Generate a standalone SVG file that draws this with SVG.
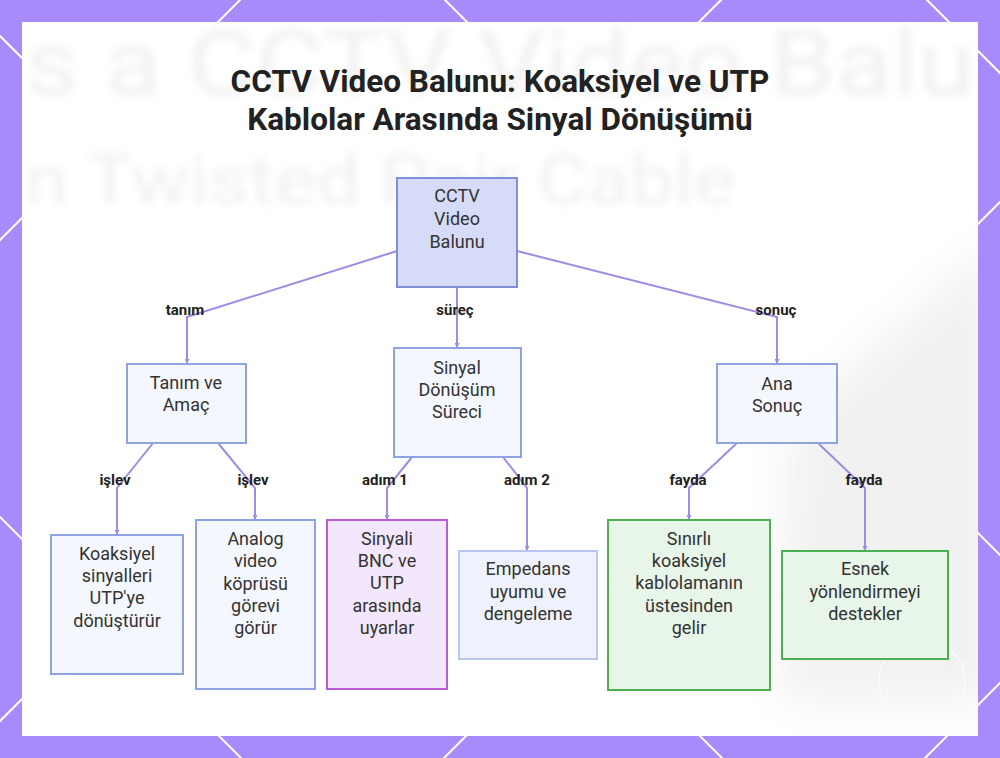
<svg xmlns="http://www.w3.org/2000/svg" width="1000" height="758" viewBox="0 0 1000 758">
  <defs>
    <style>
      .bgline { stroke: #ffffff; stroke-width: 2; fill: none; }
      .ghost { font-family: Roboto, "Liberation Sans", sans-serif; fill: #f1f1f1; }
      .title { font-family: Roboto, "Liberation Sans", sans-serif; font-weight: 700; font-size: 31.5px; fill: #222222; text-anchor: middle; }
      .node text { font-family: Roboto, "Liberation Sans", sans-serif; font-size: 18px; fill: #333333; text-anchor: middle; dominant-baseline: central; }
      .blue rect { fill: #f5f7fe; stroke: #8fa2e2; stroke-width: 2; }
      .root rect { fill: #d6dbf8; stroke: #7d8fd8; stroke-width: 2; }
      .purple rect { fill: #f2e7fd; stroke: #b65fd9; stroke-width: 2; }
      .pale rect { fill: #eff2fd; stroke: #b9c5f1; stroke-width: 2; }
      .green rect { fill: #e8f5e9; stroke: #4caf50; stroke-width: 2; }
      .conn path { fill: none; stroke: #a08ae4; stroke-width: 2; }
      .elabel { font-family: Roboto, "Liberation Sans", sans-serif; font-weight: 700; font-size: 15px; fill: #222222; text-anchor: middle; dominant-baseline: central; }
    </style>
    <filter id="blur" x="-10%" y="-30%" width="120%" height="160%">
      <feGaussianBlur stdDeviation="4"/>
    </filter>
    <filter id="blur2" x="-30%" y="-30%" width="160%" height="160%">
      <feGaussianBlur stdDeviation="22"/>
    </filter>
    <clipPath id="panel">
      <rect x="22" y="22" width="956" height="714"/>
    </clipPath>
    <marker id="arr" markerWidth="5" markerHeight="5" refX="4" refY="2.5" orient="auto" markerUnits="userSpaceOnUse">
      <path d="M0,0 L5,2.5 L0,5 z" fill="#a08ae4"/>
    </marker>
  </defs>

  <!-- border background -->
  <rect x="0" y="0" width="1000" height="758" fill="#a78bfa"/>
  <g class="bgline">
    <line x1="-10" y1="250" x2="250" y2="-10"/>
    <line x1="-10" y1="731" x2="731" y2="-10"/>
    <line x1="192" y1="1010" x2="1212" y2="-10"/>
    <line x1="673" y1="1010" x2="1693" y2="-10"/>
    <line x1="-10" y1="507" x2="261" y2="778"/>
    <line x1="-10" y1="26" x2="742" y2="778"/>
    <line x1="435" y1="-10" x2="1223" y2="778"/>
    <line x1="917" y1="-10" x2="1705" y2="778"/>
  </g>

  <!-- panel -->
  <rect x="22" y="22" width="956" height="714" fill="#ffffff"/>
  <g clip-path="url(#panel)">
    <polygon points="790,420 1000,240 1000,700 780,700" fill="#f1f1f1" filter="url(#blur2)"/>
    <text class="ghost" x="25" y="95" font-size="90" textLength="950" lengthAdjust="spacingAndGlyphs" filter="url(#blur)">s a CCTV Video Balu</text>
    <text class="ghost" x="25" y="204" font-size="68" textLength="710" lengthAdjust="spacingAndGlyphs" filter="url(#blur)">n Twisted Pair Cable</text>
    <circle cx="922" cy="682" r="43" fill="none" stroke="#fbfbfb" stroke-width="1.5"/>
  </g>

  <!-- title -->
  <text class="title" x="500" y="92">CCTV Video Balunu: Koaksiyel ve UTP</text>
  <text class="title" x="500" y="130">Kablolar Arasında Sinyal Dönüşümü</text>

  <!-- connectors -->
  <g class="conn" id="connectors">
    <path d="M397,251 L187,317 L187,363" marker-end="url(#arr)"/>
    <path d="M457,287 L457,347" marker-end="url(#arr)"/>
    <path d="M517,251 L777,317 L777,363" marker-end="url(#arr)"/>
    <path d="M153,443 L117,488 L117,534" marker-end="url(#arr)"/>
    <path d="M218,443 L255,488 L255,519" marker-end="url(#arr)"/>
    <path d="M412,457 L387,488 L387,519" marker-end="url(#arr)"/>
    <path d="M503,457 L527,488 L527,550" marker-end="url(#arr)"/>
    <path d="M737,443 L689,488 L689,519" marker-end="url(#arr)"/>
    <path d="M818,443 L865,488 L865,550" marker-end="url(#arr)"/>
    <text class="elabel" x="185" y="310">tanım</text>
    <text class="elabel" x="455" y="310">süreç</text>
    <text class="elabel" x="776" y="310">sonuç</text>
    <text class="elabel" x="115" y="480">işlev</text>
    <text class="elabel" x="253" y="480">işlev</text>
    <text class="elabel" x="385" y="480">adım 1</text>
    <text class="elabel" x="527" y="480">adım 2</text>
    <text class="elabel" x="688" y="480">fayda</text>
    <text class="elabel" x="864" y="480">fayda</text>
  </g>

  <!-- nodes -->
  <g class="node root" id="n-root">
    <rect x="397" y="178" width="120" height="109"/>
    <text x="457" y="195">CCTV</text>
    <text x="457" y="218">Video</text>
    <text x="457" y="241">Balunu</text>
  </g>
  <g class="node blue" id="n-tanim">
    <rect x="127" y="364" width="119" height="79"/>
    <text x="186" y="382">Tanım ve</text>
    <text x="186" y="404">Amaç</text>
  </g>
  <g class="node blue" id="n-surec">
    <rect x="394" y="348" width="127" height="109"/>
    <text x="457" y="367">Sinyal</text>
    <text x="457" y="389">Dönüşüm</text>
    <text x="457" y="411">Süreci</text>
  </g>
  <g class="node blue" id="n-sonuc">
    <rect x="717" y="364" width="120" height="79"/>
    <text x="777" y="383">Ana</text>
    <text x="777" y="405">Sonuç</text>
  </g>
  <g class="node blue" id="n-koaks">
    <rect x="51" y="535" width="132" height="139"/>
    <text x="117" y="553">Koaksiyel</text>
    <text x="117" y="575">sinyalleri</text>
    <text x="117" y="597">UTP'ye</text>
    <text x="117" y="620">dönüştürür</text>
  </g>
  <g class="node blue" id="n-analog">
    <rect x="196" y="520" width="119" height="169"/>
    <text x="255.5" y="538">Analog</text>
    <text x="255.5" y="560">video</text>
    <text x="255.5" y="583">köprüsü</text>
    <text x="255.5" y="605">görevi</text>
    <text x="255.5" y="627">görür</text>
  </g>
  <g class="node purple" id="n-sinyali">
    <rect x="327" y="520" width="120" height="169"/>
    <text x="387" y="538">Sinyali</text>
    <text x="387" y="560">BNC ve</text>
    <text x="387" y="582">UTP</text>
    <text x="387" y="605">arasında</text>
    <text x="387" y="627">uyarlar</text>
  </g>
  <g class="node pale" id="n-empedans">
    <rect x="459" y="551" width="138" height="108"/>
    <text x="528" y="568">Empedans</text>
    <text x="528" y="591">uyumu ve</text>
    <text x="528" y="613">dengeleme</text>
  </g>
  <g class="node green" id="n-sinirli">
    <rect x="608" y="520" width="162" height="170"/>
    <text x="689" y="538">Sınırlı</text>
    <text x="689" y="560">koaksiyel</text>
    <text x="689" y="582">kablolamanın</text>
    <text x="689" y="605">üstesinden</text>
    <text x="689" y="627">gelir</text>
  </g>
  <g class="node green" id="n-esnek">
    <rect x="782" y="551" width="166" height="108"/>
    <text x="865" y="568">Esnek</text>
    <text x="865" y="591">yönlendirmeyi</text>
    <text x="865" y="613">destekler</text>
  </g>
</svg>
